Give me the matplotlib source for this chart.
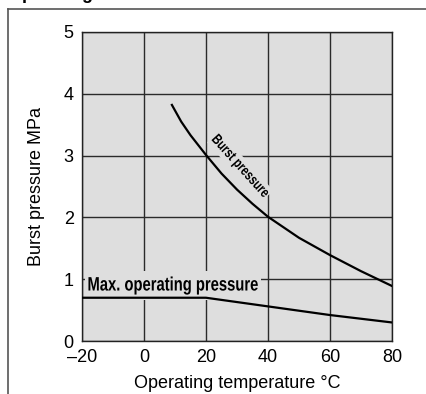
import matplotlib
matplotlib.use('Agg')
import matplotlib.pyplot as plt
import matplotlib.transforms as mtransforms
from matplotlib.lines import Line2D
from matplotlib.textpath import TextPath
from matplotlib.patches import PathPatch, Rectangle
from matplotlib.font_manager import FontProperties

# values
burstTemp = [9, 12, 15, 20, 25, 30, 35, 40, 50, 60, 70, 80]
burstPres = [3.82, 3.55, 3.33, 3.01, 2.71, 2.45, 2.22, 2.01, 1.67, 1.39, 1.13, 0.89]
maxTemp = [-20, 20, 40, 60, 80]
maxPres = [0.7, 0.7, 0.56, 0.42, 0.3]
xTicks = [-20, 0, 20, 40, 60, 80]
xTickLabels = ['\u201320', '0', '20', '40', '60', '80']
yTicks = [0, 1, 2, 3, 4, 5]

plt.rcParams['font.family'] = ['Liberation Sans', 'DejaVu Sans']
bg = '#dedede'

fig = plt.figure(figsize=(4.27, 3.94), dpi=100)
ax = fig.add_axes([82/427, 53/394, 310/427, 309/394])
ax.set_facecolor(bg)
ax.set_xlim(-20, 80)
ax.set_ylim(0, 5)
ax.set_xticks(xTicks)
ax.set_xticklabels(xTickLabels)
ax.set_yticks(yTicks)
ax.tick_params(length=0, labelsize=13, pad=6)
ax.grid(True, color='#2a2a2a', lw=1.0)
ax.set_axisbelow(True)
for s in ax.spines.values():
  s.set_color('#222222')
  s.set_linewidth(1.0)

ax.plot(burstTemp, burstPres, color='black', lw=1.6, zorder=4)
ax.plot(maxTemp, maxPres, color='black', lw=1.6, zorder=4)

def narrowLabel(x, y, txt, size, angle, squeeze=0.76, pad=2.0):
  # bold text squeezed sideways, like a condensed face, on a plain box
  tp = TextPath((0, 0), txt, size=size, prop=FontProperties(family='Liberation Sans', weight='bold'))
  bb = tp.get_extents()
  cx = (bb.x0 + bb.x1) / 2
  cy = size * 0.36
  tr = (mtransforms.Affine2D().translate(-cx, -cy).scale(squeeze, 1)
        .rotate_deg(angle).scale(fig.dpi / 72)
        + mtransforms.ScaledTranslation(x, y, ax.transData))
  box = Rectangle((bb.x0 - pad, -size * 0.22 - pad), bb.width + 2*pad,
                  size * 0.95 + 2*pad, facecolor=bg, edgecolor='none',
                  transform=tr, zorder=3)
  ax.add_patch(box)
  ax.add_patch(PathPatch(tp, facecolor='black', edgecolor='none', transform=tr, zorder=3))

narrowLabel(9.4, 0.93, 'Max. operating pressure', 14, 0, pad=3.5)
narrowLabel(31.4, 2.84, 'Burst pressure', 10.5, -48, pad=1.2)

ax.set_xlabel('Operating temperature \u00b0C', fontsize=13, labelpad=6)
ax.set_ylabel('Burst pressure MPa', fontsize=13, labelpad=13)

# outer frame and cut-off heading
fig.add_artist(Line2D([8/427, 1], [1 - 9/394, 1 - 9/394], color='#555555', lw=1.2))
fig.add_artist(Line2D([8/427, 8/427], [0, 1 - 9/394], color='#555555', lw=1.2))
fig.text(8/427, 1 + 1/394, 'Operating limits', weight='bold', fontsize=13,
         ha='left', va='baseline')

plt.savefig('out.png', dpi=100)
